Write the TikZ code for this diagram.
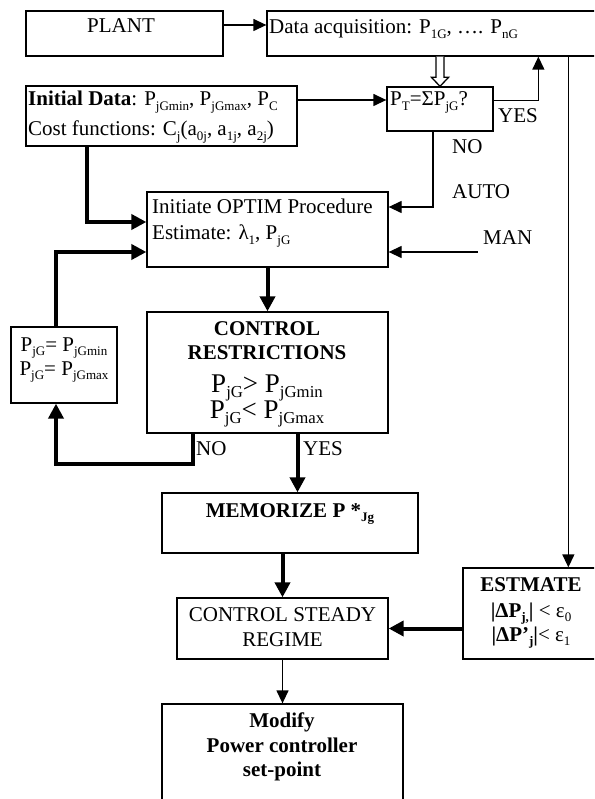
\documentclass[tikz,border=0pt]{standalone}
\usepackage{fontspec}
\setmainfont{Liberation Serif}
\usepackage{graphicx}
\usetikzlibrary{arrows.meta,calc}
\newcommand{\sbs}[1]{\raisebox{-0.22em}{\scalebox{0.62}{#1}}}
\tikzset{
  box/.style={draw, line width=1.3pt, inner sep=0pt},
  txt/.style={inner sep=0pt, font=\fontsize{21}{25}\selectfont},
  bigtxt/.style={inner sep=0pt, font=\fontsize{27}{30}\selectfont},
  tarrow/.style={line width=1.3pt, -{Triangle[length=13pt,width=12pt]}},
  Tarrow/.style={line width=4pt, line join=miter, -{Triangle[length=15pt,width=15pt]}},
  hollow/.style={line width=1.3pt, fill=white, line join=miter}
}
\begin{document}
\begin{tikzpicture}[x=1pt,y=-1pt]
\clip (0,0) rectangle (594,799);
% boxes
\node[box, minimum width=197pt, minimum height=45pt] (plant) at (124.5,33.5) {};
\node[box, minimum width=383pt, minimum height=45pt] (data) at (458.5,33.5) {};
\node[box, minimum width=271pt, minimum height=60pt] (initdata) at (161.5,116) {};
\node[box, minimum width=106pt, minimum height=44pt] (pt) at (440,109) {};
\node[box, minimum width=241pt, minimum height=75pt] (initiate) at (267.5,229.5) {};
\node[box, minimum width=241pt, minimum height=121pt] (ctrl) at (267.5,372.5) {};
\node[box, minimum width=106pt, minimum height=76pt] (pbox) at (64,365) {};
\node[box, minimum width=256pt, minimum height=60pt] (memo) at (290,523) {};
\node[box, minimum width=211pt, minimum height=61pt] (csr) at (282.5,628.5) {};
\node[box, minimum width=187pt, minimum height=91pt] (est) at (556.5,613.5) {};
\node[box, minimum width=241pt, minimum height=126pt] (modify) at (282.5,767) {};
% texts
\node[txt, anchor=base] (tplant) at (121,33) {PLANT};
\node[txt, anchor=base west] (tdata) at (269,34) {Data acquisition: P\sbs{1G}, …. P\sbs{nG}};
\node[txt, anchor=base west] (tinit1) at (28,106) {\textbf{Initial Data}: P\sbs{jGmin}, P\sbs{jGmax}, P\sbs{C}};
\node[txt, anchor=base west] (tinit2) at (28,136) {Cost functions: C\sbs{j}(a\sbs{0j}, a\sbs{1j}, a\sbs{2j})};
\node[txt, anchor=base west] (tpt) at (390,106) {P\sbs{T}=ΣP\sbs{jG}?};
\node[txt, anchor=base west] (tyes1) at (498,123) {YES};
\node[txt, anchor=base west] (tno1) at (452,154) {NO};
\node[txt, anchor=base west] (tauto) at (452,199) {AUTO};
\node[txt, anchor=base west] (tman) at (483,244) {MAN};
\node[txt, anchor=base west] (tin1) at (152,214) {Initiate OPTIM Procedure};
\node[txt, anchor=base west] (tin2) at (152,240) {Estimate: λ\sbs{1}, P\sbs{jG}};
\node[txt, anchor=base] (tc1) at (267,335) {\textbf{CONTROL}};
\node[txt, anchor=base] (tc2) at (267,359) {\textbf{RESTRICTIONS}};
\node[bigtxt, anchor=base] (tc3) at (267,392) {P\sbs{jG}> P\sbs{jGmin}};
\node[bigtxt, anchor=base] (tc4) at (267,418) {P\sbs{jG}< P\sbs{jGmax}};
\node[txt, anchor=base] (tp1) at (64,351) {P\sbs{jG}= P\sbs{jGmin}};
\node[txt, anchor=base] (tp2) at (64,375) {P\sbs{jG}= P\sbs{jGmax}};
\node[txt, anchor=base west] (tno2) at (196,455) {NO};
\node[txt, anchor=base west] (tyes2) at (303,455) {YES};
\node[txt, anchor=base] (tmemo) at (290,517) {\textbf{MEMORIZE P *\sbs{Jg}}};
\node[txt, anchor=base] (tcsr1) at (282.5,621) {CONTROL STEADY};
\node[txt, anchor=base] (tcsr2) at (282.5,646) {REGIME};
\node[txt, anchor=base] (test1) at (531,591) {\textbf{ESTMATE}};
\node[txt, anchor=base] (test2) at (531,617) {\textbf{|ΔP\sbs{j,}|} < ε\sbs{0}};
\node[txt, anchor=base] (test3) at (531,641) {\textbf{|ΔP’\sbs{j}|}< ε\sbs{1}};
\node[txt, anchor=base] (tmod1) at (282,727) {\textbf{Modify}};
\node[txt, anchor=base] (tmod2) at (282,752) {\textbf{Power controller}};
\node[txt, anchor=base] (tmod3) at (282,776) {\textbf{set-point}};
% connectors
\coordinate (pa) at ($(plant.east)+(0,-8.5)$);
\draw[tarrow] (pa) -- (pa -| data.west);
% hollow arrow
\coordinate (hl) at ($(pt.north)+(-4,0)$);
\coordinate (hr) at ($(pt.north)+(4,0)$);
\draw[hollow] (hl |- data.south) -- ($(pt.north)+(-4,-9)$) -- ($(pt.north)+(-8.5,-9)$) -- (pt.north)
  -- ($(pt.north)+(8.5,-9)$) -- ($(pt.north)+(4,-9)$) -- (hr |- data.south);
\coordinate (ib) at ($(initdata.east)+(0,-16)$);
\draw[tarrow] (ib) -- (ib -| pt.west);
\coordinate (ye) at ($(pt.east)+(0,-8.3)$);
\coordinate (yx) at ($(data.south west)+(272,0)$);
\draw[tarrow] (ye) -| (yx);
\coordinate (vx) at ($(data.south west)+(302,0)$);
\draw[tarrow] (vx) -- (vx |- est.north);
\coordinate (ns) at ($(pt.south)+(-7,0)$);
\coordinate (ni) at ($(initiate.east)+(0,-22.5)$);
\draw[tarrow] (ns) |- (ni);
\coordinate (mi) at ($(initiate.east)+(0,22.5)$);
\coordinate (ms) at ($(mi)+(89,0)$);
\draw[tarrow] (ms) -- (mi);
\coordinate (is) at ($(initdata.south)+(-75,0)$);
\coordinate (iw) at ($(initiate.west)+(0,-7.5)$);
\draw[Tarrow] (is) |- (iw);
\coordinate (pn) at ($(pbox.north)+(-8,0)$);
\coordinate (pw) at ($(initiate.west)+(0,22.5)$);
\draw[Tarrow] (pn) |- (pw);
\draw[Tarrow] (initiate.south) -- (ctrl.north);
\coordinate (cn) at ($(ctrl.south)+(-75,0)$);
\coordinate (ps) at ($(pbox.south)+(-8,0)$);
\draw[Tarrow] (cn) -- ++(0,30) -| (ps);
\coordinate (cy) at ($(ctrl.south)+(30,0)$);
\draw[Tarrow] (cy) -- (cy |- memo.north);
\draw[Tarrow] (csr.north |- memo.south) -- (csr.north);
\draw[Tarrow] (est.west |- csr.east) -- (csr.east);
\draw[tarrow] (csr.south) -- (modify.north);
\end{tikzpicture}
\end{document}
